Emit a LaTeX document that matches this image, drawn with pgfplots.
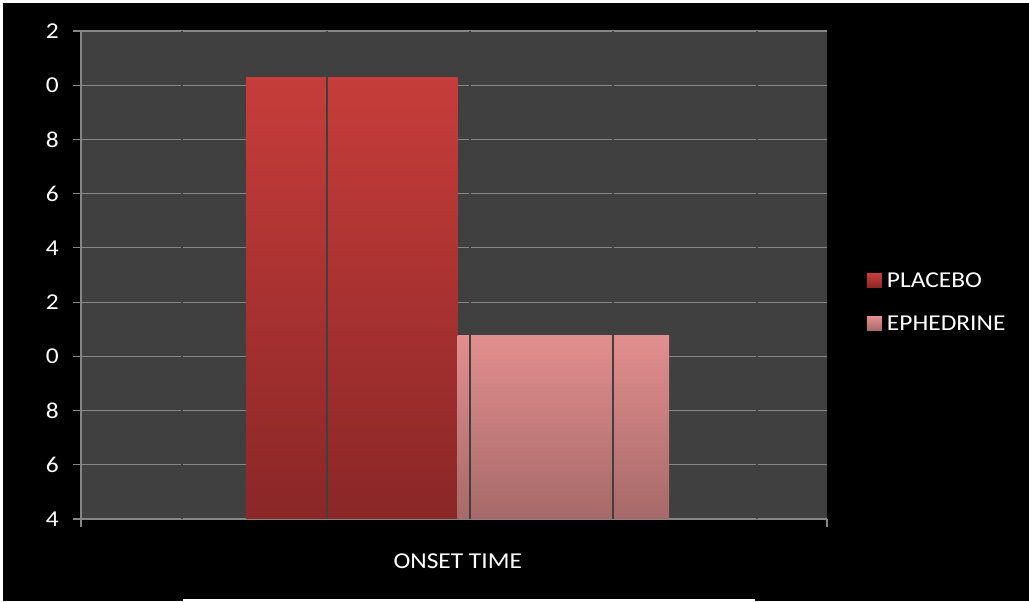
\documentclass[border=0pt]{standalone}
\usepackage{fontspec}
\setmainfont{Carlito}[FakeStretch=1.12]
\usepackage{pgfplots}
\pgfplotsset{compat=1.18}

\definecolor{plotbg}{HTML}{404040}
\definecolor{gridgray}{HTML}{868686}
\definecolor{divline}{HTML}{404040}
\definecolor{placeboTop}{HTML}{C63D3B}
\definecolor{placeboBot}{HTML}{8A2727}
\definecolor{ephTop}{HTML}{E28E8E}
\definecolor{ephBot}{HTML}{A66969}

\pgfplotsset{
  square legend/.style={
    legend image code/.code={\path[##1] (0pt,-7.5pt) rectangle (15pt,6.5pt);}
  }
}

\begin{document}
\begin{tikzpicture}[x=1pt,y=1pt]
\useasboundingbox (0,0) rectangle (1029,602);
\fill[white] (0,0) rectangle (1029,602);
\fill[black] (3,1) rectangle (1029,599);
\fill[white] (183,0) rectangle (755,3);
\begin{axis}[
  at={(81pt,83pt)}, anchor=south west,
  scale only axis, width=746pt, height=488pt,
  xmin=-0.505, xmax=0.495, ymin=4, ymax=22,
  axis background/.style={fill=plotbg},
  ybar=0pt, bar width=211.5pt,
  axis x line*=bottom, axis y line*=left,
  x axis line style={-}, y axis line style={-},
  axis line style={gridgray, line width=1.2pt},
  ymajorgrids, major grid style={gridgray, line width=1.2pt},
  tick align=outside, major tick length=8pt,
  tick style={gridgray, line width=1.2pt},
  ytick={4,6,...,22},
  yticklabels={4,6,8,0,2,4,6,8,0,2},
  xtick={-0.505,0.495}, xticklabels={},
  extra x ticks={0}, extra x tick labels={ONSET TIME},
  extra x tick style={major tick length=0pt, grid=none,
    xticklabel style={yshift=-31pt}},
  font=\fontsize{22.7pt}{27pt}\selectfont,
  ticklabel style={text=white, font=\fontsize{22.7pt}{27pt}\selectfont},
  yticklabel style={inner sep=0pt, xshift=-14pt},
  /pgf/number format/assume math mode=true,
  legend cell align=left,
  legend style={draw=none, fill=none, inner sep=0pt, outer sep=0pt,
    at={(rel axis cs:1.0536,0.445)}, anchor=west,
    text=white, font=\fontsize{22.7pt}{27pt}\selectfont,
    row sep=28pt,
    /tikz/every odd column/.append style={column sep=5pt},
    nodes={inner sep=0pt, text height=15pt, text depth=0pt}},
]
\addplot[draw=none, top color=placeboTop, bottom color=placeboBot, square legend]
  coordinates {(0,20.3)};
\addplot[draw=none, top color=ephTop, bottom color=ephBot, square legend]
  coordinates {(0,10.78)};
\legend{PLACEBO, EPHEDRINE}
% dark division lines of the category grid, drawn over the bars
\draw[divline, line width=1.5pt] (axis cs:-0.3696,4) -- (axis cs:-0.3696,22);
\draw[divline, line width=1.5pt] (axis cs:-0.1752,4) -- (axis cs:-0.1752,22);
\draw[divline, line width=1.5pt] (axis cs:0.0164,4) -- (axis cs:0.0164,22);
\draw[divline, line width=1.5pt] (axis cs:0.2081,4) -- (axis cs:0.2081,22);
\draw[divline, line width=1.5pt] (axis cs:0.4012,4) -- (axis cs:0.4012,22);
\end{axis}
\end{tikzpicture}
\end{document}
